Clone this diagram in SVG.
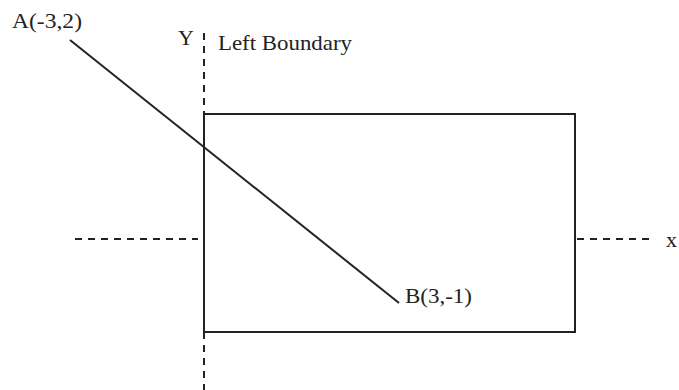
<svg xmlns="http://www.w3.org/2000/svg" width="679" height="390" viewBox="0 0 679 390">
<style>
.t{font-family:"Liberation Serif","DejaVu Serif",serif;font-size:22px;fill:#222}
.d{stroke:#222;stroke-width:2;stroke-dasharray:7 6;fill:none}
.s{stroke:#222;stroke-width:2;fill:none}
</style>
<rect width="679" height="390" fill="#fff"/>
<g id="axes">
<line class="d" x1="75" y1="239" x2="198" y2="239"/>
<line class="d" x1="577" y1="239" x2="655" y2="239"/>
<line class="d" x1="204" y1="33" x2="204" y2="390"/>
<text class="t" x="666" y="247" font-size="23">x</text>
<text class="t" x="178" y="45" font-size="20">Y</text>
</g>
<g id="boundary">
<rect class="s" x="204" y="114" width="371" height="218"/>
<text class="t" x="218" y="50" font-size="20" textLength="134" lengthAdjust="spacingAndGlyphs">Left Boundary</text>
</g>
<g id="connectors">
<line class="s" x1="70" y1="40" x2="399" y2="303"/>
</g>
<g id="A"><text class="t" x="12" y="28" textLength="70" lengthAdjust="spacingAndGlyphs">A(-3,2)</text></g>
<g id="B"><text class="t" x="405" y="303" textLength="67" lengthAdjust="spacingAndGlyphs">B(3,-1)</text></g>
</svg>
